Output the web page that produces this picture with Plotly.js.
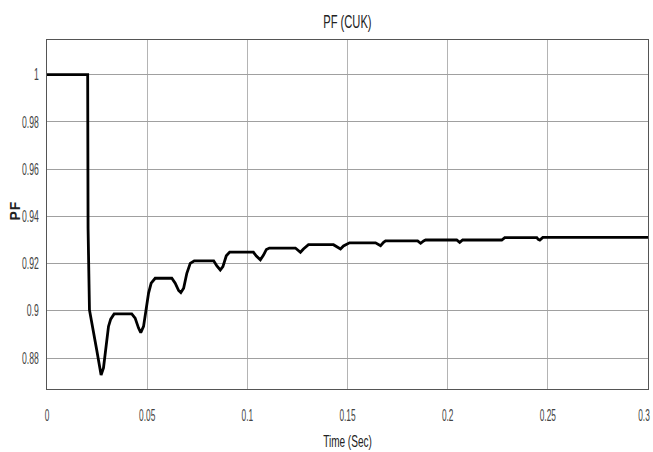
<!DOCTYPE html>
<html>
<head>
<meta charset="utf-8">
<script src="https://cdn.plot.ly/plotly-3.0.1.min.js"></script>
<style>
html,body{margin:0;padding:0;background:#fff;}
#chart{width:653px;height:452px;}
</style>
</head>
<body>
<div id="chart"></div>
<script>
// Time (s)
var timeSec = [0, 0.0203, 0.0205, 0.0208, 0.0212,
  0.0248, 0.0262, 0.027, 0.0282, 0.0295, 0.0307, 0.0318, 0.0335,
  0.0423, 0.044, 0.0457, 0.0468, 0.0482, 0.0495, 0.0507, 0.052, 0.054,
  0.0623, 0.064, 0.0657, 0.0668, 0.0682, 0.0698, 0.0715, 0.0735,
  0.0832, 0.0848, 0.0865, 0.0878, 0.0895, 0.0912,
  0.103, 0.1045, 0.1065, 0.108, 0.1095, 0.111,
  0.124, 0.1255, 0.1265, 0.128, 0.1305,
  0.143, 0.145, 0.1465, 0.148, 0.151,
  0.164, 0.1655, 0.1665, 0.168, 0.169,
  0.185, 0.1858, 0.1865, 0.188, 0.189,
  0.2045, 0.2053, 0.206, 0.2075,
  0.227, 0.2285,
  0.2445, 0.2452, 0.246, 0.2475, 0.3];
// Power factor
var pfValues = [1, 1, 0.935, 0.905, 0.9004,
  0.8835, 0.8758, 0.8728, 0.8758, 0.885, 0.8934, 0.8965, 0.8987,
  0.8987, 0.8969, 0.8927, 0.8908, 0.8934, 0.9004, 0.9075, 0.9117, 0.9138,
  0.9138, 0.9117, 0.9086, 0.9077, 0.9096, 0.9159, 0.9201, 0.9212,
  0.9212, 0.919, 0.9173, 0.9187, 0.9233, 0.9249,
  0.9249, 0.9232, 0.9216, 0.9235, 0.926, 0.9266,
  0.9266, 0.9255, 0.9248, 0.9262, 0.928,
  0.928, 0.927, 0.9262, 0.9275, 0.9288,
  0.9288, 0.928, 0.9276, 0.929, 0.9296,
  0.9296, 0.929, 0.9286, 0.9296, 0.930,
  0.930, 0.9293, 0.929, 0.930,
  0.930, 0.931,
  0.931, 0.9303, 0.930, 0.9311, 0.9311];
var xTicks = [0, 0.05, 0.1, 0.15, 0.2, 0.25, 0.3];
var yTicks = [0.88, 0.9, 0.92, 0.94, 0.96, 0.98, 1];

var fam = "'Liberation Sans', Arial, sans-serif";

var trace = {
  x: timeSec, y: pfValues, type: 'scatter', mode: 'lines',
  line: {color: '#000', width: 2.8}, hoverinfo: 'skip'
};

var layout = {
  width: 653, height: 452,
  margin: {l: 47, r: 5, t: 40, b: 63},
  paper_bgcolor: '#fff', plot_bgcolor: '#fff',
  showlegend: false,
  title: {text: 'PF (CUK)', x: 0.532, xanchor: 'center', y: 0.952, yanchor: 'middle',
          font: {family: fam, size: 18, color: '#222'}},
  xaxis: {
    range: [0, 0.3], tickvals: xTicks, ticktext: xTicks.map(String),
    showgrid: true, gridcolor: '#b4b4b4', gridwidth: 1,
    showline: true, linecolor: '#555', linewidth: 1, mirror: true,
    zeroline: false, ticks: '', ticklabelstandoff: 12, ticklabeloverflow: 'allow',
    tickfont: {family: fam, size: 16, color: '#444'},
    title: {text: 'Time (Sec)', standoff: 11, font: {family: fam, size: 17, color: '#222'}}
  },
  yaxis: {
    range: [0.8669, 1.0147], tickvals: yTicks, ticktext: yTicks.map(String),
    showgrid: true, gridcolor: '#a0a0a0', gridwidth: 1,
    showline: true, linecolor: '#555', linewidth: 1, mirror: true,
    zeroline: false, ticks: '', ticklabelstandoff: 4,
    tickfont: {family: fam, size: 16, color: '#444'}
  },
  annotations: [{
    text: '<b>PF</b>', xref: 'paper', yref: 'paper', x: -0.054, y: 0.51,
    xanchor: 'center', yanchor: 'middle', textangle: -90, showarrow: false,
    font: {family: fam, size: 14, color: '#222'}
  }]
};

function squeeze(sel, f) {
  document.querySelectorAll(sel).forEach(function (t) {
    var L = t.getComputedTextLength();
    if (L > 0) {
      t.setAttribute('textLength', (L * f).toFixed(2));
      t.setAttribute('lengthAdjust', 'spacingAndGlyphs');
    }
  });
}

Plotly.newPlot('chart', [trace], layout, {staticPlot: true, displayModeBar: false}).then(function () {
  squeeze('#chart .xtick text', 0.52);
  squeeze('#chart .ytick text', 0.54);
  squeeze('#chart .gtitle', 0.62);
  squeeze('#chart .xtitle', 0.59);
  // keep the last x label inside the picture, as in the reference
  document.querySelectorAll('#chart .xtick text').forEach(function (t) {
    if (t.textContent === '0.3') {
      t.setAttribute('x', (parseFloat(t.getAttribute('x')) || 0) - 4);
    }
  });
  document.querySelectorAll('#chart .annotation-text').forEach(function (t) {
    t.style.letterSpacing = '1px';
  });
});
</script>
</body>
</html>
